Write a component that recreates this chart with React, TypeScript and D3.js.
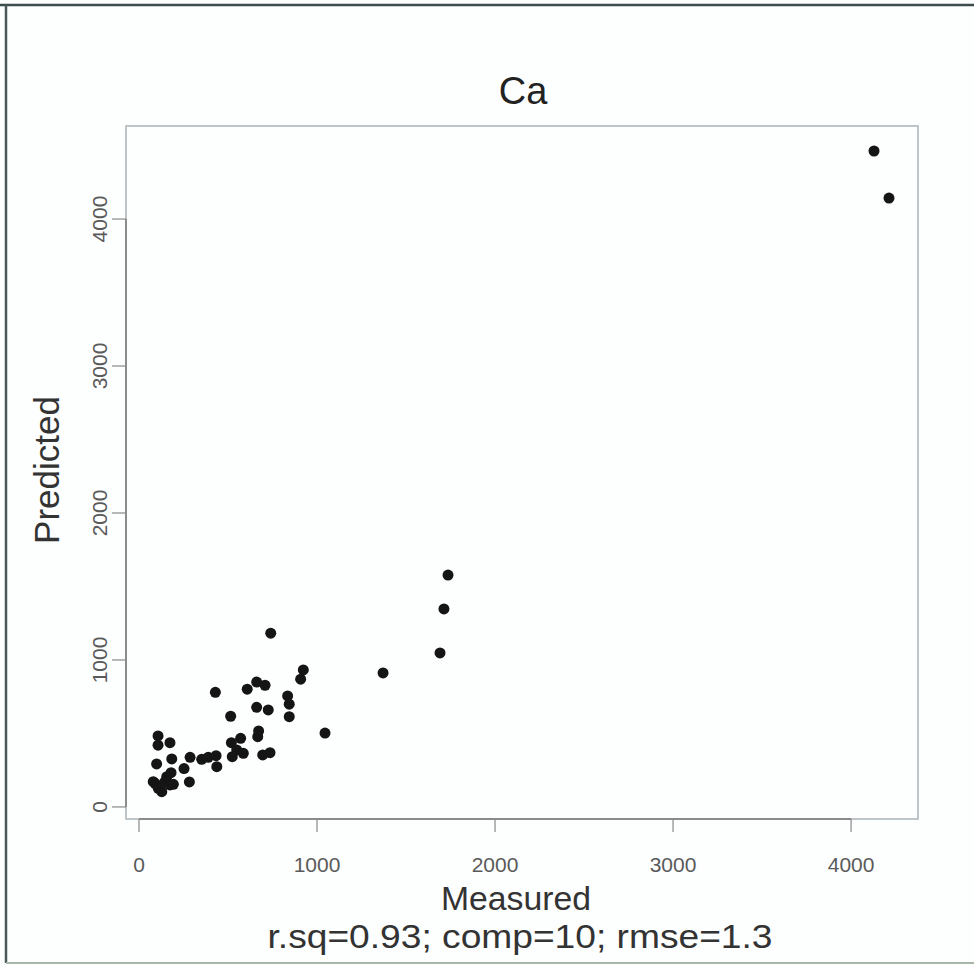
import React, { useRef, useEffect } from "react";
import { select, scaleLinear } from "d3";

// values (Measured vs Predicted, Ca)
const measured = [
  4129, 4213, 1736, 1713, 1691, 1371, 1045, 740, 923, 908, 429, 608, 661, 708,
  835, 844, 844, 661, 726, 515, 672, 667, 571, 519, 549, 586, 524, 695, 736,
  107, 107, 174, 184, 99, 287, 352, 389, 433, 437, 253, 283, 180, 156, 90, 118,
  193, 128, 108, 146, 174, 80,
];
const predicted = [
  4463, 4143, 1578, 1347, 1048, 912, 503, 1182, 932, 869, 780, 801, 850, 828,
  755, 699, 614, 678, 660, 617, 517, 478, 467, 437, 388, 365, 342, 354, 369,
  483, 420, 437, 327, 293, 338, 324, 338, 349, 274, 261, 170, 233, 206, 161, 143,
  154, 104, 127, 172, 150, 172,
];
const xTicks = [0, 1000, 2000, 3000, 4000];
const yTicks = [0, 1000, 2000, 3000, 4000];

const title = "Ca";
const xLabel = "Measured";
const yLabel = "Predicted";
const subLabel = "r.sq=0.93; comp=10; rmse=1.3";

function App() {
  const svgRef = useRef(null);

  useEffect(() => {
    const svg = select(svgRef.current);
    svg.selectAll("*").remove();
    const font = "'Liberation Sans', Arial, sans-serif";

    const left = 126,
      right = 918,
      top = 126,
      bottom = 819;

    const x = scaleLinear().domain([-73, 4376]).range([left, right]);
    const y = scaleLinear().domain([-82, 4633]).range([bottom, top]);

    // scanned page frame
    svg.append("rect").attr("width", 974).attr("height", 965).attr("fill", "#fdfefe");
    svg.append("line").attr("x1", 0).attr("x2", 974).attr("y1", 5).attr("y2", 5)
      .attr("stroke", "#3c4c4c").attr("stroke-width", 2.5);
    svg.append("line").attr("x1", 6).attr("x2", 6).attr("y1", 5).attr("y2", 963)
      .attr("stroke", "#4a5a5a").attr("stroke-width", 2.5);
    svg.append("line").attr("x1", 6).attr("x2", 974).attr("y1", 963).attr("y2", 963)
      .attr("stroke", "#a9b8a9").attr("stroke-width", 2);

    // plot box
    svg.append("rect")
      .attr("x", left).attr("y", top)
      .attr("width", right - left).attr("height", bottom - top)
      .attr("fill", "none").attr("stroke", "#aab4b8").attr("stroke-width", 1.5);

    // x axis
    const xa = svg.append("g");
    xa.append("line")
      .attr("x1", x(0)).attr("x2", x(4000))
      .attr("y1", bottom).attr("y2", bottom)
      .attr("stroke", "#777").attr("stroke-width", 1.5);
    xa.selectAll(".tick")
      .data(xTicks)
      .join("line")
      .attr("x1", (d) => x(d)).attr("x2", (d) => x(d))
      .attr("y1", bottom).attr("y2", bottom + 13)
      .attr("stroke", "#888").attr("stroke-width", 1.2);
    xa.selectAll(".lbl")
      .data(xTicks)
      .join("text")
      .attr("x", (d) => x(d)).attr("y", 872)
      .attr("text-anchor", "middle")
      .attr("font-family", font).attr("font-size", 21)
      .attr("fill", "#5a5a5a")
      .text((d) => d);

    // y axis
    const ya = svg.append("g");
    ya.append("line")
      .attr("x1", left).attr("x2", left)
      .attr("y1", y(0)).attr("y2", y(4000))
      .attr("stroke", "#777").attr("stroke-width", 1.5);
    ya.selectAll(".tick")
      .data(yTicks)
      .join("line")
      .attr("x1", left - 14).attr("x2", left)
      .attr("y1", (d) => y(d)).attr("y2", (d) => y(d))
      .attr("stroke", "#888").attr("stroke-width", 1.2);
    ya.selectAll(".lbl")
      .data(yTicks)
      .join("text")
      .attr("transform", (d) => `translate(107,${y(d)}) rotate(-90)`)
      .attr("text-anchor", "middle")
      .attr("font-family", font).attr("font-size", 21)
      .attr("fill", "#5a5a5a")
      .text((d) => d);

    // points
    svg.append("g")
      .selectAll("circle")
      .data(measured.map((m, i) => [m, predicted[i]]))
      .join("circle")
      .attr("cx", (d) => x(d[0]))
      .attr("cy", (d) => y(d[1]))
      .attr("r", 5.5)
      .attr("fill", "#151515");

    // titles
    svg.append("text")
      .attr("x", 523).attr("y", 104)
      .attr("text-anchor", "middle")
      .attr("font-family", font).attr("font-size", 38)
      .attr("fill", "#222")
      .text(title);
    svg.append("text")
      .attr("x", 516).attr("y", 910)
      .attr("text-anchor", "middle")
      .attr("font-family", font).attr("font-size", 34)
      .attr("textLength", 150).attr("lengthAdjust", "spacingAndGlyphs")
      .attr("fill", "#333")
      .text(xLabel);
    svg.append("text")
      .attr("x", 520).attr("y", 948)
      .attr("text-anchor", "middle")
      .attr("font-family", font).attr("font-size", 33)
      .attr("textLength", 505).attr("lengthAdjust", "spacingAndGlyphs")
      .attr("fill", "#333")
      .text(subLabel);
    svg.append("text")
      .attr("transform", "translate(59,470) rotate(-90)")
      .attr("text-anchor", "middle")
      .attr("font-family", font).attr("font-size", 35)
      .attr("fill", "#333")
      .text(yLabel);
  }, []);

  return (
    <svg
      ref={svgRef}
      width={974}
      height={965}
      style={{ position: "absolute", left: 0, top: 0 }}
    />
  );
}

export default App;
